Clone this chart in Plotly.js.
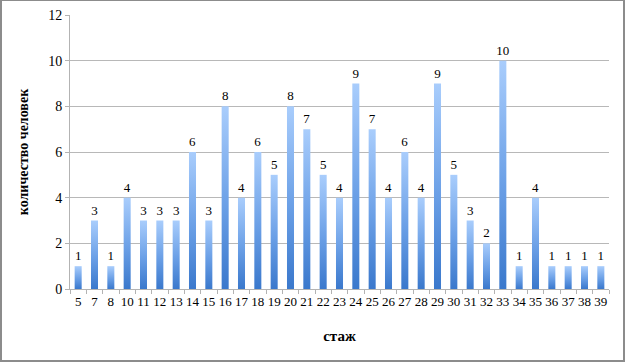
<!DOCTYPE html>
<html><head><meta charset="utf-8">
<script src="https://cdn.plot.ly/plotly-3.0.1.min.js"></script>
<style>
html,body{margin:0;padding:0;background:#fff;}
#wrap{position:relative;width:625px;height:362px;}
#chart{position:absolute;left:0;top:0;width:625px;height:362px;}
#frame{position:absolute;left:0;top:0;width:625px;height:362px;box-sizing:border-box;border:1px solid #8c8c8c;border-left-width:2px;border-right-width:2px;border-bottom-width:2px;pointer-events:none;}
</style></head>
<body>
<div id="wrap"><div id="chart"></div><div id="frame"></div></div>
<script>
const categories = ["5","7","8","10","11","12","13","14","15","16","17","18","19","20","21","22","23","24","25","26","27","28","29","30","31","32","33","34","35","36","37","38","39"];
const counts = [1,3,1,4,3,3,3,6,3,8,4,6,5,8,7,5,4,9,7,4,6,4,9,5,3,2,10,1,4,1,1,1,1];
const yTicks = [0,2,4,6,8,10,12];
const xTitle = "стаж";
const yTitle = "количество человек";

const serif = "Liberation Serif, DejaVu Serif, serif";
const trace = {
  type: "bar",
  x: categories,
  y: counts,
  text: counts.map(String),
  textposition: "outside",
  constraintext: "none",
  cliponaxis: false,
  textfont: {family: serif, size: 13, color: "#000000"},
  outsidetextfont: {family: serif, size: 13, color: "#000000"},
  marker: {color: "#6a9be0", line: {width: 0}},
  hoverinfo: "none"
};
const layout = {
  width: 625, height: 362,
  margin: {l: 70, r: 16, t: 15, b: 73},
  paper_bgcolor: "#fff", plot_bgcolor: "#fff",
  showlegend: false,
  bargap: 0.57,
  font: {family: serif, size: 13, color: "#000"},
  xaxis: {
    type: "category",
    showline: true, linecolor: "#b3b3b3", linewidth: 1,
    ticks: "outside", tickson: "boundaries", ticklen: 4, tickcolor: "#b3b3b3",
    showgrid: false, zeroline: false,
    tickfont: {family: serif, size: 13, color: "#000"},
    tickangle: 0,
    title: {text: xTitle, font: {family: serif, size: 15, color: "#000", weight: "bold"}, standoff: 22}
  },
  yaxis: {
    range: [0, 12],
    tickvals: yTicks,
    showline: true, linecolor: "#b3b3b3", linewidth: 1,
    ticks: "outside", ticklen: 4, tickcolor: "#b3b3b3",
    showgrid: true, gridcolor: "#b8b8b8", gridwidth: 1,
    zeroline: false,
    tickfont: {family: serif, size: 14, color: "#000"},
    title: {text: yTitle, font: {family: serif, size: 14, color: "#000", weight: "bold"}, standoff: 16}
  }
};
Plotly.newPlot("chart", [trace], layout, {staticPlot: true, displayModeBar: false}).then(function(gd){
  const svg = gd.querySelector("svg.main-svg");
  const ns = "http://www.w3.org/2000/svg";
  let defs = svg.querySelector("defs");
  if (!defs) { defs = document.createElementNS(ns, "defs"); svg.insertBefore(defs, svg.firstChild); }
  const lg = document.createElementNS(ns, "linearGradient");
  lg.setAttribute("id", "barGrad");
  lg.setAttribute("x1", "0"); lg.setAttribute("y1", "0");
  lg.setAttribute("x2", "0"); lg.setAttribute("y2", "1");
  [["0%","#a9cdfc"],["55%","#6a9fe6"],["100%","#3a78cc"]].forEach(function(s){
    const st = document.createElementNS(ns, "stop");
    st.setAttribute("offset", s[0]); st.setAttribute("stop-color", s[1]);
    lg.appendChild(st);
  });
  defs.appendChild(lg);
  gd.querySelectorAll(".bars .point path").forEach(function(p){
    p.style.fill = "url(#barGrad)";
  });
});
</script>
</body></html>
